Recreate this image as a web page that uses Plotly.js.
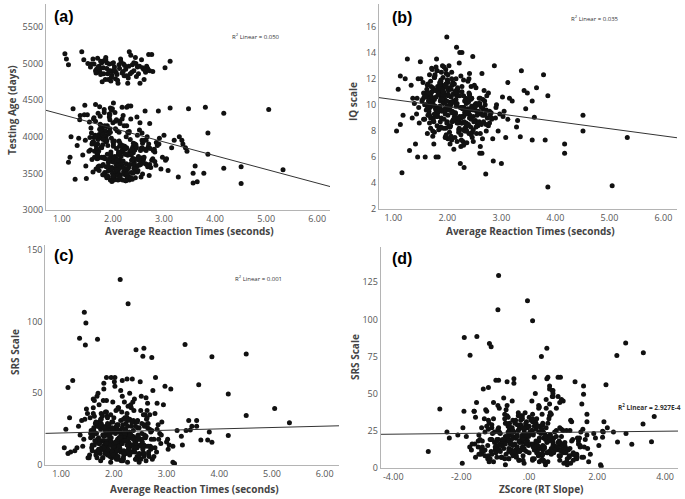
<!DOCTYPE html>
<html><head><meta charset="utf-8">
<script src="https://cdn.plot.ly/plotly-3.0.1.min.js"></script>
<style>html,body{margin:0;padding:0;background:#fff}#chart{width:685px;height:499px}</style>
</head><body><div id="chart"></div>
<script>
// ---- data: one entry per subject (panels a,b,c share rt; c,d share srs) ----
const rt = [
5.33,5.05,4.51,4.51,4.17,4.17,3.86,3.86,3.81,3.78,
3.65,3.61,3.57,3.57,3.48,3.45,3.42,3.37,3.35,3.30,
2.12,2.27,1.44,1.47,1.35,1.69,1.46,2.57,2.42,2.55,
1.06,1.09,1.13,1.39,1.43,1.51,1.56,1.61,1.63,1.66,
1.70,1.73,1.75,1.78,1.81,1.82,1.86,1.88,1.91,1.93,
1.95,1.98,2.01,2.03,2.06,2.10,2.13,2.15,2.18,2.21,
2.25,2.29,2.32,2.35,2.38,2.41,2.45,2.48,2.50,2.53,
2.56,2.60,2.64,2.70,2.72,2.76,2.78,3.02,3.12,1.85,
1.96,2.05,2.00,1.90,2.30,2.61,2.66,1.68,1.76,2.22,
1.82,2.14,1.67,2.45,1.93,2.71,2.06,1.58,2.33,1.88,
2.22,1.74,2.59,1.97,2.38,1.63,2.11,2.84,1.79,2.27,
1.91,2.48,1.70,2.17,2.63,1.85,2.02,2.36,1.54,2.91,
2.09,1.77,2.52,1.95,2.29,1.66,2.41,2.00,2.76,1.86,
2.19,1.61,2.34,2.07,1.81,2.55,1.99,2.24,1.72,2.67,
1.13,2.31,1.89,2.13,2.44,1.76,2.04,2.87,1.94,2.20,
1.68,2.39,2.01,1.84,2.58,2.16,1.73,2.26,3.05,1.90,
2.12,1.57,2.47,1.96,2.35,1.80,2.69,2.08,1.64,2.28,
1.22,2.18,1.87,2.42,2.03,1.75,2.61,1.98,2.23,1.69,
2.37,1.83,2.10,2.79,1.92,2.25,1.60,2.50,2.05,1.78,
1.30,2.15,2.32,1.88,2.64,1.71,2.21,1.95,2.46,3.12,
2.00,1.86,2.40,1.65,2.13,2.73,1.93,2.30,1.79,2.56,
1.18,2.08,1.74,2.36,2.19,1.90,2.82,1.62,2.27,2.04,
1.45,2.43,1.97,2.12,1.81,2.53,2.01,2.66,1.72,2.34,
2.16,1.59,2.29,1.94,2.48,1.85,2.74,2.07,3.20,1.77,
1.36,2.23,2.06,1.69,2.39,2.94,1.91,2.18,1.56,2.60,
2.11,1.83,2.51,1.99,2.31,1.67,2.44,2.02,2.85,1.89,
1.26,2.20,1.76,2.57,2.09,1.96,2.35,1.63,2.72,2.14,
1.50,2.28,1.87,2.41,2.05,1.73,2.62,1.92,3.28,2.25,
1.41,2.17,2.00,1.80,2.49,2.12,1.66,2.37,2.97,1.84,
2.03,1.53,2.26,1.94,2.68,1.78,2.15,2.45,3.15,1.98,
1.33,2.32,1.70,2.10,2.54,1.88,2.22,2.78,1.61,2.40,
2.07,1.48,2.19,1.82,2.65,2.01,2.30,2.89,1.75,3.08,
1.16,2.24,1.95,2.43,1.86,2.13,2.59,3.00,1.71,2.81,
1.87,2.24,1.62,2.09,2.51,1.79,2.36,1.96,2.15,2.70,
2.02,1.71,2.44,1.90,2.28,2.61,1.84,2.11,1.55,2.39,
2.19,1.93,2.57,1.76,2.05,2.33,1.68,2.47,2.00,2.82,
1.82,2.26,2.13,1.64,2.40,1.98,2.72,2.08,1.73,2.30,
2.16,1.89,2.53,2.04,1.78,2.35,2.21,1.59,2.65,1.94,
2.42,1.85,2.10,2.29,1.70,2.58,2.01,2.18,3.03,1.91,
2.25,1.66,2.48,2.07,1.81,2.37,2.14,2.90,1.97,2.54,
1.58,1.74,1.88,2.08,2.23,2.37,2.52,2.68,1.97,2.16,
1.67,1.83,2.03,2.27,2.44,2.58,1.79,2.12,2.34,1.92,
1.71,2.20,2.46,1.99,2.63,1.86,2.31,2.09,1.76,2.41
];
const age = [
3550,4370,3590,3360,4320,3570,4050,3760,4400,3500,
3385,3600,3370,3500,4380,3800,3850,3900,3950,4000,
3760,4150,4300,3600,4230,3700,3950,4050,3880,3450,
5130,5060,4980,5160,5050,5000,4950,5060,4990,4900,
5070,4960,4880,5010,4940,4860,5050,4930,4780,4990,
4900,4840,5010,4950,4880,4730,4930,5060,4870,4990,
4920,4730,5160,5110,4980,4900,5000,4950,4860,4730,
5050,4920,4880,5120,4900,5120,4890,4940,5030,4780,
4760,4790,4900,4860,4800,4780,4960,4920,5030,4830,
3720,4180,3560,3890,4310,3470,3650,4050,3800,3940,
3530,4410,3680,3980,3420,4260,3760,3610,4120,3850,
3450,4020,3900,3590,4350,3700,3500,3810,4200,3980,
3640,3860,4090,3410,3750,4440,3570,3930,3680,4070,
3790,3520,3960,4230,3620,3840,4380,3480,3710,4000,
3650,3590,4150,3870,3440,3990,3730,3880,3550,4290,
3830,3700,4460,3510,3910,3620,4030,3760,3700,3460,
3940,4120,3600,3790,4240,3480,3860,4080,3720,3550,
4380,3820,4010,3640,3430,4170,3950,3580,3870,3770,
3680,4330,3540,3810,4060,3400,3920,3730,4210,3600,
3880,3740,3410,4140,3630,3960,3520,4390,3850,4390,
3570,3930,3780,4020,3690,3840,4270,3460,3980,3710,
4000,3600,4100,3750,3870,3530,3660,3930,4400,3480,
4430,3820,3560,4060,3710,4190,3900,3620,3800,3440,
3660,3900,3750,4300,3520,3970,3580,3840,3950,4110,
4290,3540,3710,4010,3860,3560,3650,4240,3820,3700,
3790,4370,3610,3500,4050,3880,3690,3410,3920,3760,
3420,3670,4160,3850,3580,3730,4420,3990,3620,3910,
4300,3490,3960,3700,4110,3600,3830,4040,3450,3560,
3750,3620,4190,3890,3540,3780,4000,3680,3720,4080,
3940,3800,3630,4230,3590,3720,3480,3870,3850,3660,
3980,4070,3750,3520,3810,3440,4150,3700,3920,3620,
3610,3430,3880,4020,3950,3710,3570,4350,4280,3540,
3720,3760,4060,3900,3470,4210,3640,4020,3590,3830,
3590,3830,4240,3470,3680,4050,3510,3760,3420,3900,
3650,4320,3560,3880,3440,3720,4150,3600,3990,3500,
3410,3700,3950,4080,3530,3620,3840,4270,3460,3790,
3480,4000,3570,3800,3910,3390,4180,3680,3540,4420,
3730,3460,3620,4330,3850,3440,3580,3690,3810,4110,
3520,3950,3410,4060,3780,3490,3870,4400,3680,3600,
3400,4210,3700,3550,3960,3830,3450,3900,4360,3620,
4990,4920,5010,4850,4970,4880,4960,4930,4810,5020,
4870,5040,4910,4830,5080,4940,4750,4980,4860,4900,
4950,4890,4820,5000,4910,5080,4960,4770,4850,5010
];
const iq = [
7.5,3.8,9.2,8.0,7.0,6.3,10.7,3.7,7.3,12.3,
11.3,9.05,7.3,10.3,10.9,9.7,11.1,12.6,7.56,8.8,
9.4,11.0,10.5,9.8,9.0,8.2,12.0,10.0,9.2,8.6,
8.0,11.2,8.5,10.1,9.3,12.0,8.9,10.6,7.8,9.5,
11.4,10.2,8.7,9.9,12.6,9.1,10.8,8.3,9.6,11.0,
10.4,7.5,9.2,13.0,10.0,8.8,11.6,9.4,10.7,8.1,
12.2,9.7,10.3,8.6,11.8,9.0,10.5,7.2,9.9,11.3,
8.4,10.1,12.4,9.3,8.0,10.9,9.5,10.6,8.9,11.1,
9.7,10.2,8.7,11.5,9.1,6.8,10.4,9.8,12.1,8.2,
9.4,10.8,8.6,9.9,11.3,4.7,10.1,8.9,9.6,11.8,
13.2,9.0,10.5,8.2,9.7,11.5,10.3,7.4,6.0,14.0,
13.0,9.1,10.9,14.4,8.5,9.8,11.1,8.0,10.4,10.0,
9.5,12.3,8.8,10.2,7.2,9.3,10.7,11.9,8.4,9.9,
11.0,9.6,8.3,10.6,12.6,9.2,15.2,5.5,10.0,8.7,
12.2,5.2,10.4,9.0,11.4,7.9,9.7,13.0,10.8,8.6,
10.2,9.4,11.7,8.1,10.0,12.0,7.6,9.8,9.5,11.2,
8.9,10.6,13.7,9.3,8.0,13.5,10.3,7.3,11.6,9.1,
12.0,10.1,8.7,9.6,11.3,7.0,10.5,12.4,14.0,9.0,
8.5,6.0,10.8,9.2,12.1,7.7,10.0,11.5,8.3,9.7,
6.5,11.0,9.4,10.6,6.3,12.8,8.8,10.2,7.5,11.7,
9.9,11.4,7.8,10.3,9.0,10.7,8.2,11.9,9.6,8.4,
9.2,12.5,10.0,7.1,11.2,9.5,8.9,10.9,8.6,7.9,
6.0,10.4,11.6,8.8,9.3,10.1,7.4,9.7,12.7,10.5,
11.1,6.0,9.8,10.6,8.1,11.4,9.0,7.6,10.3,12.2,
10.5,9.1,8.4,11.8,10.2,8.0,9.6,7.2,10.9,6.3,
9.4,11.2,10.0,8.6,9.8,12.3,7.7,10.7,5.7,9.0,
13.5,8.8,10.4,9.3,11.5,7.5,10.1,9.9,8.5,11.0,
13.3,9.7,8.2,10.8,7.0,11.3,9.4,10.2,8.3,6.8,
7.0,10.0,11.9,9.1,8.7,6.6,10.6,9.5,9.3,10.9,
8.4,10.3,7.3,12.9,9.2,11.1,8.9,10.5,10.5,9.6,
11.5,8.0,9.9,11.7,7.8,10.4,9.0,8.6,10.7,12.0,
10.1,8.6,11.3,9.5,7.4,10.8,6.9,9.0,11.2,7.5,
4.8,9.8,10.7,8.3,11.6,9.1,8.7,5.5,10.4,9.4,
10.3,9.0,11.2,8.7,9.8,10.6,8.4,11.5,9.3,10.0,
9.6,11.0,8.9,10.4,9.1,7.8,10.8,9.4,11.7,8.5,
8.8,10.1,9.5,12.1,9.9,8.2,10.5,9.7,11.3,9.0,
11.4,8.6,10.2,9.2,10.9,7.7,9.6,12.0,8.0,10.7,
9.9,12.5,8.3,10.0,11.1,9.3,7.9,10.6,9.2,8.9,
10.5,9.7,11.6,8.1,10.2,9.4,12.3,8.6,9.1,10.8,
9.0,10.9,9.6,11.2,8.4,10.3,7.5,9.8,12.7,9.5,
10.0,8.8,11.9,9.4,10.7,8.5,9.9,11.1,7.6,10.4,
9.2,10.8,8.3,11.4,9.7,10.1,12.9,8.9,9.5,11.0,
10.6,9.0,7.9,10.3,9.8,11.7,8.7,10.2,9.3,12.4
];
const srs = [
29.5,39.5,77.5,34.5,49.5,20.5,75.6,15.8,23,17.5,
17.4,56,31,27,27,24.5,31,24,84,14,
129.5,112.5,106.5,99,88.5,87.7,83.7,81.5,80.5,75.8,
12,25,8,31,18,5,22,40,14,9,
27,16,3,35,20,11,45,7,24,15,
19,30,6,13,28,10,52,17,4,23,
33,12,21,9,38,16,26,2,14,29,
8,19,43,11,24,6,36,18,13,22,
5,27,10,15,32,20,7,48,17,25,
14,22,9,31,6,18,27,12,40,16,
19,8,35,24,11,45,15,28,5,21,
10,26,17,3,38,13,61,20,7,30,
23,12,48,16,9,29,4,33,18,25,
7,36,20,14,53,11,24,17,42,6,
54,13,26,9,19,32,15,22,2,44,
28,18,12,37,21,59,10,27,14,8,
16,24,5,30,60,17,13,39,22,11,
59,20,34,15,8,25,47,12,29,18,
31,10,23,61,14,36,20,58,6,27,
12,19,42,8,26,15,33,61,21,2,
25,61,13,29,17,4,22,50,11,35,
9,28,16,44,20,7,43,24,14,38,
32,18,26,11,57,22,15,9,30,19,
48,14,23,35,8,27,52,17,24,12,
21,33,10,16,46,42,28,5,19,13,
15,26,38,12,22,9,30,55,18,24,
10,17,29,6,40,23,14,34,75,20,
36,12,21,27,4,16,32,19,20,60,
13,28,9,45,18,24,7,30,55,15,
22,5,31,16,25,11,37,20,1,44,
27,14,50,19,8,33,24,12,46,17,
18,39,10,26,13,58,21,15,32,53,
33,8,24,14,37,20,28,16,11,9,
17,9,26,13,4,21,30,7,15,23,
11,19,6,28,16,3,24,12,33,18,
8,22,14,36,10,27,5,19,13,25,
20,2,31,17,9,24,12,40,15,7,
26,11,18,6,34,14,22,10,29,16,
4,23,13,19,27,8,15,32,11,21,
14,30,7,25,12,18,3,21,9,16,
20,11,29,6,17,24,13,35,9,15,
22,8,16,41,12,27,5,19,30,14,
10,25,18,7,33,15,21,4,28,12
];
const zslope = [
3.35,-2.63,3.36,3.68,1.6,2.16,2.58,3.02,2.85,3.6,
2.6,2.26,2.2,2.3,-1.1,2.16,1.7,2.48,2.84,1.5,
-0.9,-0.05,-0.92,0.1,-1.54,-1.91,-1.17,-1.12,0.52,-1.74,
-0.4,0.8,-1.2,0.1,-0.7,1.3,-0.2,0.5,-1.5,0.3,
-0.9,1.0,-1.97,0.6,-2.35,-2.97,-0.5,1.6,-2.42,0.9,
-1.1,0.4,-0.6,1.2,0.0,-1.4,0.7,-0.8,0.3,1.9,
-0.2,-1.0,0.5,-0.4,-1.92,-1.6,0.2,-0.7,0.8,-0.1,
1.4,-0.9,0.6,-0.3,-1.3,0.1,1.7,-0.6,0.4,-2.1,
0.9,-0.5,0.0,1.5,-1.2,0.3,-0.8,0.7,-0.2,1.0,
-0.35,0.62,-1.10,0.18,-0.72,1.25,-0.05,0.40,-0.88,0.95,
-1.45,0.27,-0.20,1.52,-0.60,0.08,0.73,-1.25,0.35,-0.48,
0.55,-0.92,1.05,-0.15,-1.62,0.30,0.85,-0.40,1.38,-0.70,
0.12,-1.30,0.68,-0.55,1.80,-0.25,0.45,-1.05,0.20,1.10,
-0.82,0.38,-0.10,1.62,-1.35,0.58,-0.45,0.90,-0.65,0.15,
-1.20,0.75,-0.30,1.30,-0.95,0.05,2.05,-0.58,0.48,-1.55,
0.32,-0.78,1.15,-0.12,0.60,-0.98,0.22,-1.40,0.82,-0.38,
1.45,-0.50,0.10,-1.18,0.52,-0.28,0.98,-0.68,1.70,-0.08,
-0.90,0.42,-1.58,0.70,-0.18,1.20,-0.75,0.25,-1.10,0.88,
-0.42,1.02,-0.85,0.15,-1.75,0.65,-0.22,1.35,-0.60,0.35,
0.78,-1.15,0.28,-0.48,1.58,-0.02,-1.32,0.55,-0.70,2.10,
-0.15,0.92,-0.95,0.40,-0.55,1.10,-1.48,0.18,0.62,-0.32,
1.28,-0.62,0.05,-1.05,0.72,-0.38,1.55,-0.88,0.30,-1.62,
-0.25,0.58,-1.20,0.95,-0.45,0.12,-0.80,1.40,-0.10,0.48,
0.85,-1.38,0.35,-0.65,1.18,-0.20,0.68,-1.02,2.18,-0.52,
-1.85,0.22,1.08,-0.42,0.50,-0.92,0.15,-0.30,1.65,-0.75,
0.40,-0.58,-1.25,0.88,-0.12,1.32,-0.68,0.60,-1.50,0.02,
-0.98,0.70,-0.35,1.12,0.28,-1.08,0.45,-0.62,0.36,1.48,
0.10,-1.70,0.80,-0.28,0.55,-0.85,1.22,-0.18,1.95,-0.45,
-0.60,0.32,-1.42,1.00,-0.05,0.75,-0.95,0.20,1.60,-1.22,
0.48,-0.30,1.25,-0.78,0.08,-1.12,0.62,-0.40,2.12,0.90,
-1.95,0.18,0.70,-0.52,1.38,-0.22,0.42,-0.88,0.95,-0.08,
0.28,-1.28,0.52,-0.15,1.72,-0.65,-0.02,1.05,-0.48,0.60,
-0.72,0.38,-1.02,0.82,-0.32,1.42,-0.58,0.12,-1.35,0.65,
0.22,-0.68,0.95,-0.15,-1.05,0.48,-0.42,1.18,-0.80,0.05,
-0.28,0.70,-1.22,0.35,-0.55,1.02,-0.90,0.15,0.58,-1.38,
0.88,-0.35,0.12,-0.72,1.30,-0.18,0.42,-1.12,0.65,-0.48,
-0.62,1.12,-0.08,0.52,-1.48,0.28,-0.25,0.80,-0.95,1.55,
0.38,-0.85,-0.30,1.40,0.00,-1.00,0.62,-0.52,0.18,-1.68,
1.75,-0.12,0.45,-0.78,0.90,-1.30,0.25,-0.40,1.05,-0.65,
-0.20,0.55,-1.58,0.08,0.75,-0.95,1.22,-0.35,0.32,-0.10,
0.60,-0.45,0.20,-1.15,0.85,-0.62,1.10,-0.25,0.40,-0.88,
-0.05,0.92,-0.70,0.30,-1.40,0.50,-0.18,1.28,-0.58,0.15,
0.72,-0.32,1.45,-0.82,0.10,-0.48,0.95,-1.18,0.26,-0.15
];

// fit lines: [intercept, slope]
const fitA = [4489, -187];
const fitB = [10.96, -0.557];
const fitC = [21.4, 0.95];
const fitD = [23.6, 0.25];
const r2Text = ['R<sup>2</sup> Linear = 0.050','R<sup>2</sup> Linear = 0.035','R<sup>2</sup> Linear = 0.001','R<sup>2</sup> Linear = 2.927E-4'];
const panelLabels = ['(a)','(b)','(c)','(d)'];

// ticks
const rtTicks = [1,2,3,4,5,6];
const rtTickText = ['1.00','2.00','3.00','4.00','5.00','6.00'];
const ageTicks = [3000,3500,4000,4500,5000,5500];
const iqTicks = [2,4,6,8,10,12,14,16];
const srsTicksC = [0,50,100,150];
const srsTicksD = [0,25,50,75,100,125];
const zTicks = [-4,-2,0,2,4];
const zTickText = ['-4.00','-2.00','.00','2.00','4.00'];

// ---- layout helpers (pixels -> paper) ----
const W = 685, H = 499;
const px = v => v / W;
const py = v => 1 - v / H;

const tickFont = {family:'Open Sans, sans-serif', size:9, color:'#555'};
function axis(dom, range, vals, text, anchor) {
  const a = {domain:dom, range:range, tickvals:vals, showline:true, linecolor:'#b4b4b4', linewidth:1,
    showgrid:false, zeroline:false, ticks:'', tickfont:tickFont, anchor:anchor, fixedrange:true};
  if (text) a.ticktext = text;
  return a;
}

const rA = [[0.69,6.25],[3000,5810]];
const rB = [[0.735,6.25],[2,17.72]];
const rC = [[0.70,6.27],[0,153.5]];
const rD = [[-4.37,4.38],[0,149]];

const mk = {color:'#111', size:5};
function pts(x, y, xa, ya) {
  return {type:'scatter', mode:'markers', x:x, y:y, xaxis:xa, yaxis:ya, marker:mk, hoverinfo:'skip'};
}
function fit(f, r, xa, ya) {
  return {type:'scatter', mode:'lines', x:[r[0][0], r[0][1]], y:[f[0]+f[1]*r[0][0], f[0]+f[1]*r[0][1]],
    xaxis:xa, yaxis:ya, line:{color:'#333', width:1}, hoverinfo:'skip'};
}

const data = [
  pts(rt, age, 'x', 'y'), fit(fitA, rA, 'x', 'y'),
  pts(rt, iq, 'x2', 'y2'), fit(fitB, rB, 'x2', 'y2'),
  pts(rt, srs, 'x3', 'y3'), fit(fitC, rC, 'x3', 'y3'),
  pts(zslope, srs, 'x4', 'y4'), fit(fitD, rD, 'x4', 'y4')
];

const titleFont = {family:'Open Sans, sans-serif', size:10, color:'#444', weight:'bold'};
function ann(text, x, y, opts) {
  return Object.assign({text:text, x:px(x), y:py(y), xref:'paper', yref:'paper', showarrow:false,
    xanchor:'center', yanchor:'middle', font:titleFont}, opts || {});
}
const labFont = {family:'Liberation Sans, Arial, sans-serif', size:16, color:'#000', weight:'bold'};
const r2Font = {family:'Open Sans, sans-serif', size:6, color:'#333'};

const annotations = [
  ann('Average Reaction Times (seconds)', 189, 231),
  ann('Average Reaction Times (seconds)', 530, 231),
  ann('Average Reaction Times (seconds)', 194, 489),
  ann('ZScore (RT Slope)', 541, 489),
  ann('Testing Age (days)', 12, 110, {textangle:-90}),
  ann('IQ scale', 353, 101, {textangle:-90}),
  ann('SRS Scale', 15, 352, {textangle:-90}),
  ann('SRS Scale', 355, 357, {textangle:-90}),
  ann(panelLabels[0], 64, 16, {font:labFont}),
  ann(panelLabels[1], 402, 17, {font:labFont}),
  ann(panelLabels[2], 64, 256, {font:labFont}),
  ann(panelLabels[3], 402, 258, {font:labFont}),
  ann(r2Text[0], 256, 37, {font:r2Font}),
  ann(r2Text[1], 595, 18, {font:r2Font}),
  ann(r2Text[2], 258, 278, {font:r2Font}),
  ann(r2Text[3], 649, 407, {font:{family:'Open Sans, sans-serif', size:6.5, color:'#333', weight:'bold'}})
];

const layout = {
  width:W, height:H, margin:{l:0,r:0,t:0,b:0}, showlegend:false,
  paper_bgcolor:'#fff', plot_bgcolor:'#fff',
  xaxis: axis([px(46),px(330)], rA[0], rtTicks, rtTickText, 'y'),
  yaxis: axis([py(210),py(4)], rA[1], ageTicks, null, 'x'),
  xaxis2: axis([px(379),px(677)], rB[0], rtTicks, rtTickText, 'y2'),
  yaxis2: axis([py(209.3),py(4)], rB[1], iqTicks, null, 'x2'),
  xaxis3: axis([px(45.3),px(339)], rC[0], rtTicks, rtTickText, 'y3'),
  yaxis3: axis([py(465),py(245)], rC[1], srsTicksC, null, 'x3'),
  xaxis4: axis([px(380.7),px(678)], rD[0], zTicks, zTickText, 'y4'),
  yaxis4: axis([py(467.7),py(246.7)], rD[1], srsTicksD, null, 'x4'),
  annotations: annotations
};

Plotly.newPlot('chart', data, layout, {staticPlot:true, displayModeBar:false});
</script>
</body></html>
